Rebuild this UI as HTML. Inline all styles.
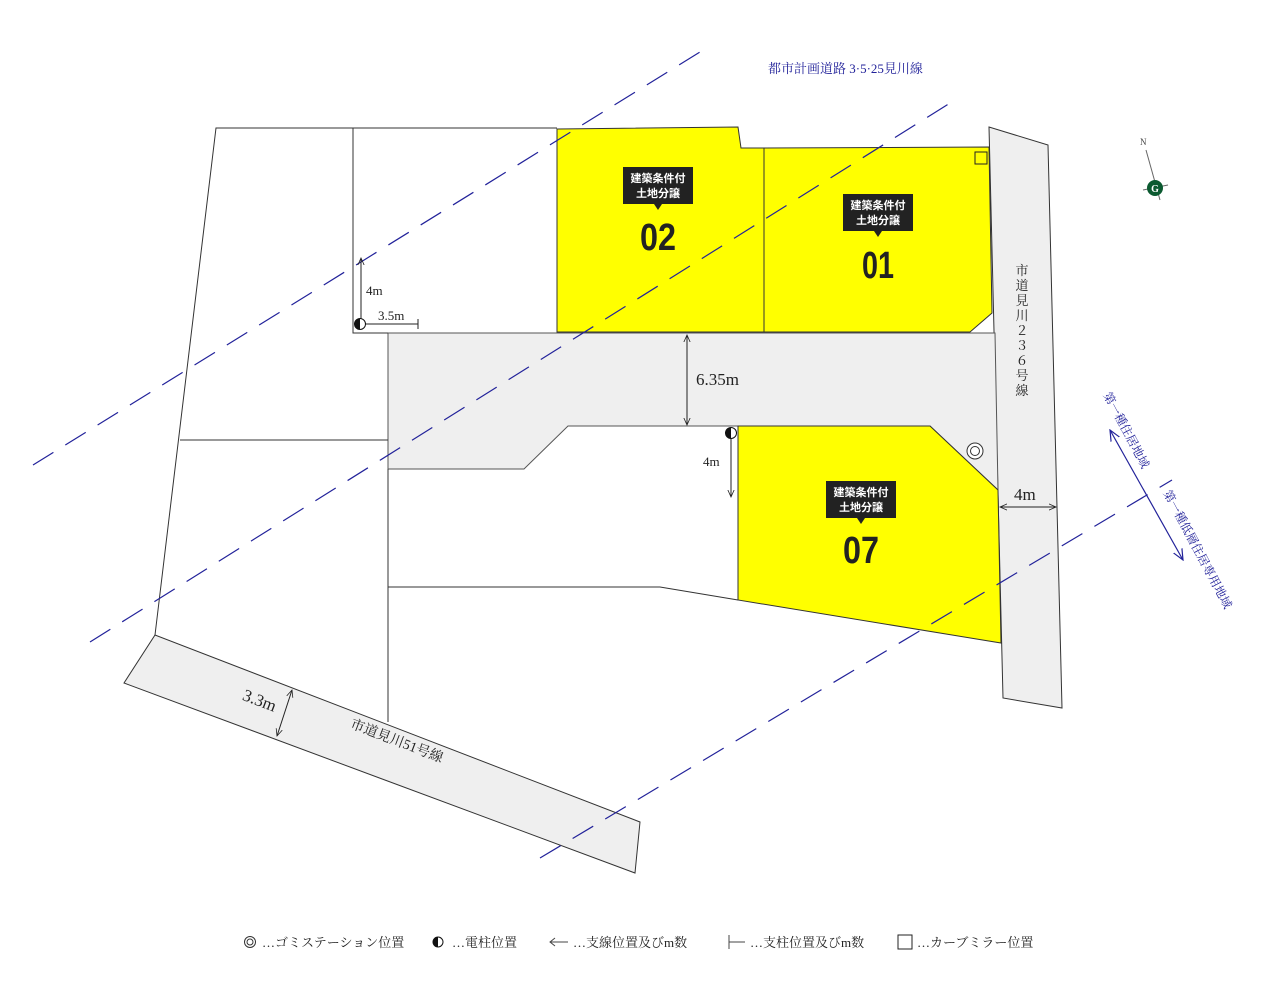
<!DOCTYPE html>
<html><head><meta charset="utf-8"><style>
html,body{margin:0;padding:0;background:#fff;}
svg{display:block;}
text{font-family:"Liberation Serif","Noto Serif CJK SC",serif;}
.b{font-family:"Liberation Sans","Noto Sans CJK JP",sans-serif;font-weight:bold;fill:#fff;font-size:11px;}
.n{font-family:"Liberation Sans","Noto Sans CJK JP",sans-serif;font-weight:bold;fill:#222;font-size:38px;}
</style></head><body>
<svg width="1280" height="1000" viewBox="0 0 1280 1000" xmlns="http://www.w3.org/2000/svg">
<defs>
<marker id="ah" viewBox="0 0 10 10" refX="9" refY="5" markerWidth="8" markerHeight="8" orient="auto-start-reverse"><path d="M0,1 L9,5 L0,9" fill="none" stroke="#222" stroke-width="1"/></marker>
<marker id="bh" viewBox="0 0 10 10" refX="9" refY="5" markerWidth="10" markerHeight="10" orient="auto-start-reverse"><path d="M0,1 L9,5 L0,9" fill="none" stroke="#22229a" stroke-width="1"/></marker>
</defs>
<!-- roads -->
<polygon points="989,127 1048,145 1062,708 1003,698" fill="#efefef" stroke="#333" stroke-width="1"/>
<polygon points="155,635 640,822 635,873 124,683" fill="#efefef" stroke="#333" stroke-width="1"/>
<polygon points="388,333 995,333 998,490 930,426 568,426 524,469 388,469" fill="#efefef" stroke="#555" stroke-width="1"/>
<!-- lots -->
<polygon points="557,129 738,127 741,148 764,148 764,332 557,332" fill="#ffff00" stroke="#333" stroke-width="1"/>
<polygon points="764,148 989,147 992,313 970,332 764,332" fill="#ffff00" stroke="#333" stroke-width="1"/>
<polygon points="738,426 930,426 998,490 1001,643 738,600" fill="#ffff00" stroke="#333" stroke-width="1"/>
<g fill="none" stroke="#333" stroke-width="1">
<polyline points="155,635 216,128 557,128"/>
<polyline points="353,128 353,333 388,333"/>
<line x1="180" y1="440" x2="388" y2="440"/>
<line x1="388" y1="469" x2="388" y2="722"/>
<polyline points="388,587 660,587 738,600"/>
</g>
<!-- dashed blue -->
<g stroke="#22229a" stroke-width="1.2" stroke-dasharray="24,14" fill="none">
<line x1="33" y1="465" x2="700" y2="52"/>
<line x1="90" y1="642" x2="958" y2="98"/>
<line x1="540" y1="858" x2="1172" y2="480"/>
</g>
<!-- dims -->
<g stroke="#222" stroke-width="1" fill="none">
<line x1="361" y1="324" x2="361" y2="258" marker-end="url(#ah)"/>
<line x1="361" y1="324" x2="418" y2="324"/><line x1="418" y1="319" x2="418" y2="329"/>
<line x1="731" y1="437" x2="731" y2="497" marker-end="url(#ah)"/>
<line x1="687" y1="335" x2="687" y2="425" marker-start="url(#ah)" marker-end="url(#ah)"/>
<line x1="1000" y1="507" x2="1056" y2="507" marker-start="url(#ah)" marker-end="url(#ah)"/>
<line x1="292" y1="690" x2="277" y2="736" marker-start="url(#ah)" marker-end="url(#ah)"/>
</g>
<line x1="1110" y1="430" x2="1183" y2="560" stroke="#22229a" stroke-width="1.2" marker-start="url(#bh)" marker-end="url(#bh)"/>
<!-- poles -->
<g><circle cx="360" cy="324" r="5.5" fill="#fff" stroke="#111"/><path d="M360,318.5 A5.5,5.5 0 0 0 360,329.5 Z" fill="#111"/></g>
<g><circle cx="731" cy="433" r="5.5" fill="#fff" stroke="#111"/><path d="M731,427.5 A5.5,5.5 0 0 0 731,438.5 Z" fill="#111"/></g>
<circle cx="975" cy="451" r="8" fill="#fff" stroke="#333"/><circle cx="975" cy="451" r="4.5" fill="none" stroke="#333"/>
<rect x="975" y="152" width="12" height="12" fill="none" stroke="#222"/>
<!-- labels -->
<g>
<rect x="623" y="167" width="70" height="37" fill="#222"/><polygon points="654,204 662,204 658,210" fill="#222"/>
<text class="b" x="658" y="182" text-anchor="middle">建築条件付</text><text class="b" x="658" y="197" text-anchor="middle">土地分譲</text>
<text class="n" x="658" y="250" text-anchor="middle" textLength="36" lengthAdjust="spacingAndGlyphs">02</text>
<rect x="843" y="194" width="70" height="37" fill="#222"/><polygon points="874,231 882,231 878,237" fill="#222"/>
<text class="b" x="878" y="209" text-anchor="middle">建築条件付</text><text class="b" x="878" y="224" text-anchor="middle">土地分譲</text>
<text class="n" x="878" y="278" text-anchor="middle" textLength="32" lengthAdjust="spacingAndGlyphs">01</text>
<rect x="826" y="481" width="70" height="37" fill="#222"/><polygon points="857,518 865,518 861,524" fill="#222"/>
<text class="b" x="861" y="496" text-anchor="middle">建築条件付</text><text class="b" x="861" y="511" text-anchor="middle">土地分譲</text>
<text class="n" x="861" y="563" text-anchor="middle" textLength="36" lengthAdjust="spacingAndGlyphs">07</text>
</g>
<g fill="#222">
<text x="366" y="295" font-size="13">4m</text>
<text x="378" y="320" font-size="13">3.5m</text>
<text x="703" y="466" font-size="13">4m</text>
<text x="696" y="385" font-size="17" font-family="Liberation Sans,sans-serif">6.35m</text>
<text x="1014" y="500" font-size="17" font-family="Liberation Sans,sans-serif">4m</text>
<text x="242" y="707" font-size="17" font-family="Liberation Sans,sans-serif" transform="rotate(21 262 702)">3.3m</text>
<text x="340" y="745" font-size="14" transform="rotate(21 392 762)">市道見川51号線</text>
<text font-size="13" x="1022" y="275" text-anchor="middle">
<tspan x="1022" dy="0">市</tspan><tspan x="1022" dy="15">道</tspan><tspan x="1022" dy="15">見</tspan><tspan x="1022" dy="15">川</tspan><tspan x="1022" dy="15">２</tspan><tspan x="1022" dy="15">３</tspan><tspan x="1022" dy="15">６</tspan><tspan x="1022" dy="15">号</tspan><tspan x="1022" dy="15">線</tspan></text>
</g>
<g fill="#22229a" font-size="12">
<text x="768" y="73" font-size="13">都市計画道路 3·5·25見川線</text>
<text x="1103" y="395" transform="rotate(62 1103 395)">第一種住居地域</text>
<text x="1163" y="493" transform="rotate(62 1163 493)">第一種低層住居専用地域</text>
</g>
<!-- compass -->
<g stroke="#666" stroke-width="1" fill="none">
<line x1="1146" y1="150" x2="1160" y2="200"/><line x1="1143" y1="190" x2="1168" y2="185"/>
</g>
<text x="1140" y="145" font-size="9" fill="#444">N</text>
<circle cx="1155" cy="188" r="8" fill="#0b5a30"/>
<text x="1155" y="192" font-size="10" fill="#fff" text-anchor="middle" font-family="Liberation Sans,sans-serif" font-weight="bold">G</text>
<!-- legend -->
<g font-size="13" fill="#222">
<circle cx="250" cy="942" r="5.5" fill="none" stroke="#333"/><circle cx="250" cy="942" r="3" fill="none" stroke="#333"/>
<text x="262" y="947">…ゴミステーション位置</text>
<circle cx="438" cy="942" r="5" fill="#fff" stroke="#111"/><path d="M438,937 A5,5 0 0 0 438,947 Z" fill="#111"/>
<text x="452" y="947">…電柱位置</text>
<line x1="550" y1="942" x2="568" y2="942" stroke="#444"/><path d="M555,938 L550,942 L555,946" fill="none" stroke="#444"/>
<text x="573" y="947">…支線位置及びm数</text>
<line x1="729" y1="935" x2="729" y2="949" stroke="#444"/><line x1="729" y1="942" x2="745" y2="942" stroke="#444"/>
<text x="750" y="947">…支柱位置及びm数</text>
<rect x="898" y="935" width="14" height="14" fill="none" stroke="#222"/>
<text x="917" y="947">…カーブミラー位置</text>
</g>
</svg>
</body></html>
